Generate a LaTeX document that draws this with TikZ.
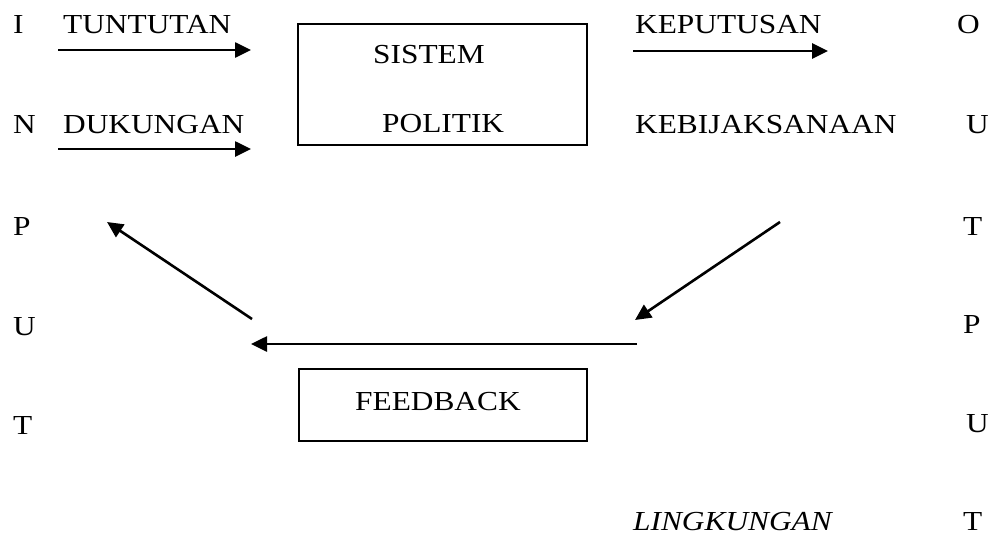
\documentclass[tikz,border=0pt]{standalone}
\usepackage{fontspec}
\setmainfont[FakeStretch=1.14]{Liberation Serif}
\usetikzlibrary{arrows.meta}
\begin{document}
\begin{tikzpicture}[x=1pt,y=-1pt,
  lbl/.style={anchor=base west,inner sep=0pt,font=\fontsize{27.5}{30}\selectfont},
  boxshape/.style={draw,line width=1.7pt,inner sep=0pt},
  arr/.style={line width=2.6pt,-{Triangle[length=16pt,width=15pt]}}]
\useasboundingbox (0,0) rectangle (990,538);
% left column INPUT
\node[lbl] (i1) at (13,33) {I};
\node[lbl] (i2) at (13,133) {N};
\node[lbl] (i3) at (13,235) {P};
\node[lbl] (i4) at (13,335) {U};
\node[lbl] (i5) at (13,434) {T};
% right column OUTPUT
\node[lbl] (o1) at (957,33) {O};
\node[lbl] (o2) at (966,133) {U};
\node[lbl] (o3) at (963,235) {T};
\node[lbl] (o4) at (963,333) {P};
\node[lbl] (o5) at (966,432) {U};
\node[lbl] (o6) at (963,530) {T};
% labels
\node[lbl] (tun) at (63,33) {TUNTUTAN};
\node[lbl] (duk) at (63,133) {DUKUNGAN};
\node[lbl] (kep) at (635,33) {KEPUTUSAN};
\node[lbl] (keb) at (635,133) {KEBIJAKSANAAN};
\node[lbl] (ling) at (633,530) {\itshape LINGKUNGAN};
% system box
\node[boxshape,minimum width=289pt,minimum height=121pt] (sys) at (442.5,84.5) {};
\node[lbl] (sis) at (373,63) {SISTEM};
\node[lbl] (pol) at (382,132) {POLITIK};
% feedback box
\node[boxshape,minimum width=288pt,minimum height=72pt] (fb) at (443,405) {};
\node[lbl] (fbt) at (355,410) {FEEDBACK};
% arrow coordinates
\coordinate (a1s) at (58,50);  \coordinate (a1e) at (251,50);
\coordinate (a2s) at (58,149); \coordinate (a2e) at (251,149);
\coordinate (a3s) at (633,51); \coordinate (a3e) at (828,51);
\coordinate (rds) at (780,222); \coordinate (rde) at (635,320);
\coordinate (hs) at (637,344); \coordinate (he) at (251,344);
\coordinate (lds) at (252,319); \coordinate (lde) at (107,222);
\draw[arr] (a1s) -- (a1e);
\draw[arr] (a2s) -- (a2e);
\draw[arr] (a3s) -- (a3e);
\draw[arr] (rds) -- (rde);
\draw[arr] (hs) -- (he);
\draw[arr] (lds) -- (lde);
\end{tikzpicture}
\end{document}
